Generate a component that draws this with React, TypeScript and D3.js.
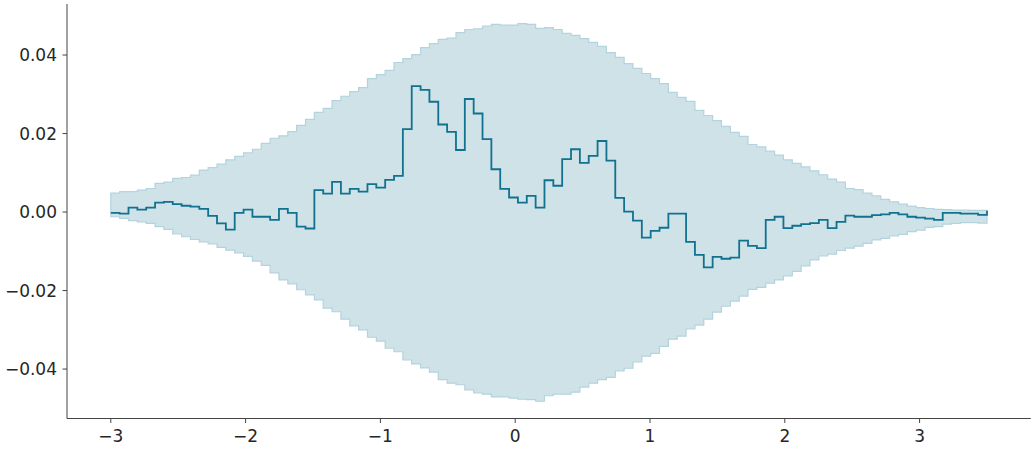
import React from "react";
import * as d3 from "d3";

const X_START = -3;
const X_END = 3.5;
const N = 100;

const lineValues = [
  -0.0002, -0.0004, 0.0011, 0.0006, 0.0011, 0.0024, 0.0026, 0.002, 0.0016, 0.0014,
  0.0008, -0.001, -0.0029, -0.0045, -0.0002, 0.0006, -0.0012, -0.0012, -0.002, 0.0008,
  -0.0002, -0.0037, -0.0042, 0.0056, 0.0047, 0.0077, 0.0047, 0.0059, 0.0052, 0.0071,
  0.0062, 0.0082, 0.0092, 0.0211, 0.0321, 0.0311, 0.0281, 0.0223, 0.0204, 0.0158,
  0.0288, 0.0251, 0.0186, 0.0109, 0.0059, 0.0037, 0.0024, 0.0041, 0.0011, 0.0081,
  0.0067, 0.0135, 0.016, 0.0125, 0.0143, 0.0181, 0.0131, 0.0036, 0.0001, -0.0022,
  -0.0065, -0.0048, -0.004, -0.0004, -0.0004, -0.0076, -0.0109, -0.0141, -0.0114, -0.0119,
  -0.0116, -0.0073, -0.0086, -0.0092, -0.002, -0.0012, -0.0041, -0.0035, -0.0031, -0.0028,
  -0.002, -0.0041, -0.0025, -0.0009, -0.0012, -0.0012, -0.0008, -0.0006, -0.0002, -0.0006,
  -0.0012, -0.0014, -0.0017, -0.002, -0.0002, -0.0002, -0.0004, -0.0004, -0.0007, 0.0003,
];

const upperValues = [
  0.0048, 0.0052, 0.0052, 0.0056, 0.006, 0.0073, 0.0076, 0.0086, 0.0088, 0.0094,
  0.0107, 0.0113, 0.0122, 0.0133, 0.0142, 0.0151, 0.016, 0.0175, 0.0188, 0.0194,
  0.0205, 0.0221, 0.0236, 0.0254, 0.0264, 0.0284, 0.0295, 0.0307, 0.0317, 0.034,
  0.035, 0.0361, 0.0381, 0.0391, 0.0401, 0.0419, 0.0429, 0.044, 0.0443, 0.0457,
  0.0465, 0.0467, 0.0474, 0.0478, 0.0476, 0.0476, 0.048, 0.0478, 0.0468, 0.047,
  0.0465, 0.0455, 0.045, 0.0442, 0.0432, 0.0422, 0.0406, 0.0394, 0.0378, 0.0366,
  0.0353, 0.034, 0.0327, 0.0305, 0.0292, 0.0282, 0.0259, 0.0246, 0.0233, 0.0218,
  0.0203, 0.0193, 0.0172, 0.0166, 0.0155, 0.0145, 0.0133, 0.0124, 0.0115, 0.0105,
  0.0095, 0.0084, 0.0076, 0.006, 0.0057, 0.0048, 0.0041, 0.0032, 0.0026, 0.002,
  0.0015, 0.0011, 0.0009, 0.0007, 0.0006, 0.0005, 0.0005, 0.0004, 0.0004, 0.0004,
];

const lowerValues = [
  -0.0012, -0.0016, -0.0022, -0.0025, -0.0029, -0.0037, -0.0044, -0.0056, -0.0063, -0.007,
  -0.0076, -0.0081, -0.009, -0.0097, -0.0104, -0.0113, -0.0125, -0.0136, -0.0155, -0.0173,
  -0.0183, -0.0198, -0.0211, -0.0224, -0.0245, -0.0254, -0.0273, -0.029, -0.03, -0.0319,
  -0.0329, -0.0347, -0.0356, -0.0377, -0.0387, -0.0397, -0.0408, -0.0427, -0.0436, -0.044,
  -0.0453, -0.0461, -0.0464, -0.0471, -0.0471, -0.0474, -0.0477, -0.0478, -0.0482, -0.0468,
  -0.0464, -0.0464, -0.0459, -0.0446, -0.0436, -0.0427, -0.0421, -0.0405, -0.0398, -0.0382,
  -0.0367, -0.036, -0.0342, -0.0324, -0.0316, -0.0298, -0.0288, -0.0273, -0.0255, -0.024,
  -0.0227, -0.0214, -0.0197, -0.0192, -0.0181, -0.0173, -0.0163, -0.0151, -0.0137, -0.0122,
  -0.0112, -0.0107, -0.0098, -0.0092, -0.0087, -0.008, -0.0071, -0.0067, -0.0061, -0.0057,
  -0.005, -0.0046, -0.0039, -0.0037, -0.0031, -0.0029, -0.0027, -0.0027, -0.0028, -0.0028,
];

const xTicks = [-3, -2, -1, 0, 1, 2, 3];
const yTicks = [-0.04, -0.02, 0, 0.02, 0.04];

const W = 1035;
const H = 450;

const fmtX = (v: number) => (v < 0 ? "\u2212" + Math.abs(v) : String(v));
const fmtY = (v: number) => {
  const s = Math.abs(v).toFixed(2);
  return v < -1e-9 ? "\u2212" + s : s;
};

export default function App() {
  const xs = d3.range(N).map((i) => X_START + (i * (X_END - X_START)) / (N - 1));
  const x = d3.scaleLinear().domain([-3.325, 3.825]).range([67, 1030.8]);
  const y = d3.scaleLinear().domain([-0.0526, 0.053]).range([418.5, 4]);

  const pts = xs.map((xv, i) => ({ x: xv, v: lineValues[i], lo: lowerValues[i], hi: upperValues[i] }));

  const area = d3
    .area<any>()
    .curve(d3.curveStepAfter)
    .x((d) => x(d.x))
    .y0((d) => y(d.lo))
    .y1((d) => y(d.hi));
  const line = d3
    .line<any>()
    .curve(d3.curveStepAfter)
    .x((d) => x(d.x))
    .y((d) => y(d.v));

  const left = x.range()[0];
  const right = x.range()[1];
  const bottom = y.range()[0];
  const top = y.range()[1];
  const axisColor = "#444444";
  const textColor = "#262626";
  const font = "DejaVu Sans, sans-serif";
  const fs = 17;

  return (
    <svg
      width={W}
      height={H}
      style={{ position: "absolute", left: 0, top: 0, background: "#fff" }}
    >
      <path d={area(pts) || ""} fill="#cfe2e8" stroke="#b3d3dd" strokeWidth={1.2} />
      <path d={line(pts) || ""} fill="none" stroke="#10728f" strokeWidth={1.8} />

      <line x1={left} x2={left} y1={top} y2={bottom} stroke={axisColor} strokeWidth={1} />
      <line x1={left} x2={right} y1={bottom} y2={bottom} stroke={axisColor} strokeWidth={1} />

      {xTicks.map((t) => (
        <g key={"x" + t}>
          <line x1={x(t)} x2={x(t)} y1={bottom} y2={bottom + 4.5} stroke={axisColor} strokeWidth={1} />
          <text
            x={x(t)}
            y={bottom + 23.2}
            textAnchor="middle"
            fontFamily={font}
            fontSize={fs}
            fill={textColor}
          >
            {fmtX(t)}
          </text>
        </g>
      ))}
      {yTicks.map((t) => (
        <g key={"y" + t}>
          <line x1={left - 4.5} x2={left} y1={y(t)} y2={y(t)} stroke={axisColor} strokeWidth={1} />
          <text
            x={left - 10}
            y={y(t)}
            dy="0.36em"
            textAnchor="end"
            fontFamily={font}
            fontSize={fs}
            fill={textColor}
          >
            {fmtY(t)}
          </text>
        </g>
      ))}
    </svg>
  );
}
